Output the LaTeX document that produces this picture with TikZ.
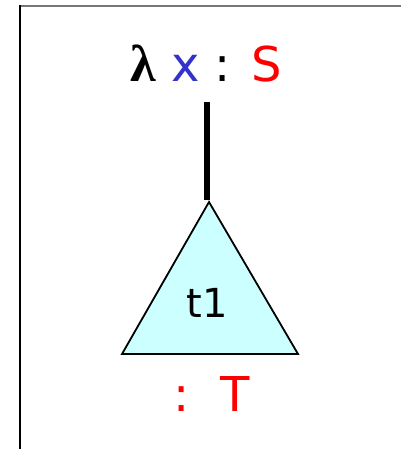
\documentclass[tikz,border=0pt]{standalone}
\usepackage{fontspec}
\setmainfont{DejaVu Sans}
\newfontfamily\lamfont{Liberation Serif}
\definecolor{xblue}{HTML}{3333CC}
\definecolor{tred}{HTML}{FF0000}
\definecolor{tcyan}{HTML}{CCFFFF}
\definecolor{frame}{HTML}{777777}
\begin{document}
\begin{tikzpicture}[x=1pt,y=1pt,
  bigtext/.style={inner sep=0pt,anchor=base,font=\fontsize{48}{52}\selectfont},
  treetri/.style={draw=black,line width=1.8pt,fill=tcyan,line join=miter},
  stem/.style={line width=6pt}]
\useasboundingbox (0,0) rectangle (401,449);
\draw[frame,line width=2pt] (20,443) -- (401,443);
\draw[black,line width=1.5pt] (20,444) -- (20,0);
\node[bigtext] (lam) at (206,367) {{\lamfont\bfseries\fontsize{52}{56}\selectfont λ} \textcolor{xblue}{x} : \textcolor{tred}{S}};
\coordinate (stemtop) at (207,347);
\coordinate (stembot) at (207,249);
\coordinate (apex) at (209,247);
\coordinate (bl) at (122,95);
\coordinate (br) at (298,95);
\draw[stem] (stemtop) -- (stembot);
\draw[treetri] (apex) -- (br) -- (bl) -- cycle;
\node[inner sep=0pt,font=\fontsize{40}{44}\selectfont] (t1) at (207,146) {t1};
\node[bigtext,text=tred] (typ) at (212,37) {:~~T};
\end{tikzpicture}
\end{document}
